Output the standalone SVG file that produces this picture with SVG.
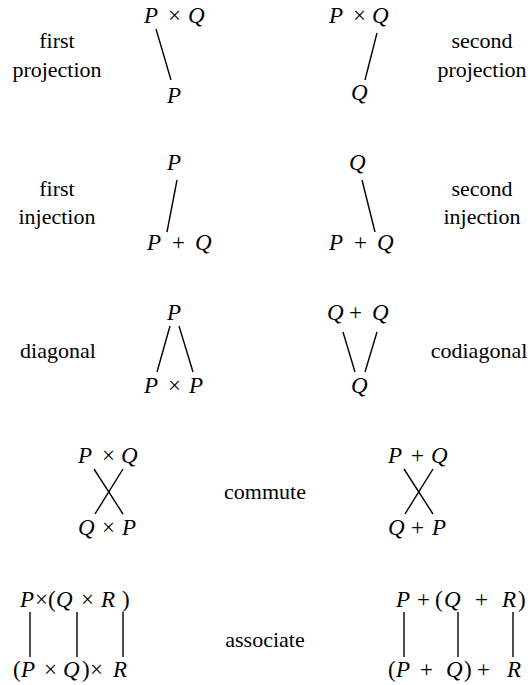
<svg xmlns="http://www.w3.org/2000/svg" width="531" height="685" viewBox="0 0 531 685">
<rect width="531" height="685" fill="#fff"/>
<g id="labels">
<text x="57" y="48" font-size="22" text-anchor="middle" font-family="Liberation Serif" style="font-family:'Liberation Serif',serif">first</text>
<text x="57" y="77" font-size="22" text-anchor="middle" font-family="Liberation Serif" style="font-family:'Liberation Serif',serif">projection</text>
<text x="482" y="48" font-size="22" text-anchor="middle" font-family="Liberation Serif" style="font-family:'Liberation Serif',serif">second</text>
<text x="482" y="77" font-size="22" text-anchor="middle" font-family="Liberation Serif" style="font-family:'Liberation Serif',serif">projection</text>
<text x="57" y="196" font-size="22" text-anchor="middle" font-family="Liberation Serif" style="font-family:'Liberation Serif',serif">first</text>
<text x="57" y="224" font-size="22" text-anchor="middle" font-family="Liberation Serif" style="font-family:'Liberation Serif',serif">injection</text>
<text x="482" y="196" font-size="22" text-anchor="middle" font-family="Liberation Serif" style="font-family:'Liberation Serif',serif">second</text>
<text x="482" y="224" font-size="22" text-anchor="middle" font-family="Liberation Serif" style="font-family:'Liberation Serif',serif">injection</text>
<text x="58" y="358" font-size="22" text-anchor="middle" font-family="Liberation Serif" style="font-family:'Liberation Serif',serif">diagonal</text>
<text x="479" y="358" font-size="22" text-anchor="middle" font-family="Liberation Serif" style="font-family:'Liberation Serif',serif">codiagonal</text>
<text x="265" y="499" font-size="22" text-anchor="middle" font-family="Liberation Serif" style="font-family:'Liberation Serif',serif">commute</text>
<text x="265" y="647" font-size="22" text-anchor="middle" font-family="Liberation Serif" style="font-family:'Liberation Serif',serif">associate</text>
</g>
<g id="nodes">
<g id="n-first-proj-top"><text y="23" font-size="23" font-family="Liberation Serif" style="font-family:'Liberation Serif',serif"><tspan font-style="italic" x="144">P</tspan><tspan x="168">×</tspan><tspan font-style="italic" x="188">Q</tspan></text></g>
<g id="n-first-proj-bot"><text x="167" y="103" font-size="23" font-style="italic" font-family="Liberation Serif" style="font-family:'Liberation Serif',serif">P</text></g>
<g id="n-second-proj-top"><text y="23" font-size="23" font-family="Liberation Serif" style="font-family:'Liberation Serif',serif"><tspan font-style="italic" x="329">P</tspan><tspan x="353">×</tspan><tspan font-style="italic" x="372">Q</tspan></text></g>
<g id="n-second-proj-bot"><text x="351" y="100" font-size="23" font-style="italic" font-family="Liberation Serif" style="font-family:'Liberation Serif',serif">Q</text></g>
<g id="n-first-inj-top"><text x="167" y="170" font-size="23" font-style="italic" font-family="Liberation Serif" style="font-family:'Liberation Serif',serif">P</text></g>
<g id="n-first-inj-bot"><text y="250" font-size="23" font-family="Liberation Serif" style="font-family:'Liberation Serif',serif"><tspan font-style="italic" x="147">P</tspan><tspan x="172">+</tspan><tspan font-style="italic" x="195">Q</tspan></text></g>
<g id="n-second-inj-top"><text x="349" y="170" font-size="23" font-style="italic" font-family="Liberation Serif" style="font-family:'Liberation Serif',serif">Q</text></g>
<g id="n-second-inj-bot"><text y="250" font-size="23" font-family="Liberation Serif" style="font-family:'Liberation Serif',serif"><tspan font-style="italic" x="329">P</tspan><tspan x="354">+</tspan><tspan font-style="italic" x="377">Q</tspan></text></g>
<g id="n-diag-top"><text x="167" y="320" font-size="23" font-style="italic" font-family="Liberation Serif" style="font-family:'Liberation Serif',serif">P</text></g>
<g id="n-diag-bot"><text y="393" font-size="23" font-family="Liberation Serif" style="font-family:'Liberation Serif',serif"><tspan font-style="italic" x="144">P</tspan><tspan x="168">×</tspan><tspan font-style="italic" x="189">P</tspan></text></g>
<g id="n-codiag-top"><text y="320" font-size="23" font-family="Liberation Serif" style="font-family:'Liberation Serif',serif"><tspan font-style="italic" x="327">Q</tspan><tspan x="349">+</tspan><tspan font-style="italic" x="372">Q</tspan></text></g>
<g id="n-codiag-bot"><text x="351" y="393" font-size="23" font-style="italic" font-family="Liberation Serif" style="font-family:'Liberation Serif',serif">Q</text></g>
<g id="n-comm1-top"><text y="463" font-size="23" font-family="Liberation Serif" style="font-family:'Liberation Serif',serif"><tspan font-style="italic" x="78">P</tspan><tspan x="102">×</tspan><tspan font-style="italic" x="121">Q</tspan></text></g>
<g id="n-comm1-bot"><text y="535" font-size="23" font-family="Liberation Serif" style="font-family:'Liberation Serif',serif"><tspan font-style="italic" x="78">Q</tspan><tspan x="102">×</tspan><tspan font-style="italic" x="122">P</tspan></text></g>
<g id="n-comm2-top"><text y="463" font-size="23" font-family="Liberation Serif" style="font-family:'Liberation Serif',serif"><tspan font-style="italic" x="388">P</tspan><tspan x="411">+</tspan><tspan font-style="italic" x="431">Q</tspan></text></g>
<g id="n-comm2-bot"><text y="535" font-size="23" font-family="Liberation Serif" style="font-family:'Liberation Serif',serif"><tspan font-style="italic" x="388">Q</tspan><tspan x="411">+</tspan><tspan font-style="italic" x="432">P</tspan></text></g>
<g id="n-assoc1-top"><text y="607" font-size="23" font-family="Liberation Serif" style="font-family:'Liberation Serif',serif"><tspan font-style="italic" x="20">P</tspan><tspan x="35">×</tspan><tspan x="48">(</tspan><tspan font-style="italic" x="56">Q</tspan><tspan x="81">×</tspan><tspan font-style="italic" x="101">R</tspan><tspan x="122">)</tspan></text></g>
<g id="n-assoc1-bot"><text y="677" font-size="23" font-family="Liberation Serif" style="font-family:'Liberation Serif',serif"><tspan x="13">(</tspan><tspan font-style="italic" x="21">P</tspan><tspan x="44">×</tspan><tspan font-style="italic" x="63">Q</tspan><tspan x="82">)</tspan><tspan x="90">×</tspan><tspan font-style="italic" x="113">R</tspan></text></g>
<g id="n-assoc2-top"><text y="607" font-size="23" font-family="Liberation Serif" style="font-family:'Liberation Serif',serif"><tspan font-style="italic" x="396">P</tspan><tspan x="417">+</tspan><tspan x="435">(</tspan><tspan font-style="italic" x="444">Q</tspan><tspan x="475">+</tspan><tspan font-style="italic" x="502">R</tspan><tspan x="518">)</tspan></text></g>
<g id="n-assoc2-bot"><text y="677" font-size="23" font-family="Liberation Serif" style="font-family:'Liberation Serif',serif"><tspan x="388">(</tspan><tspan font-style="italic" x="396">P</tspan><tspan x="420">+</tspan><tspan font-style="italic" x="446">Q</tspan><tspan x="464">)</tspan><tspan x="477">+</tspan><tspan font-style="italic" x="507">R</tspan></text></g>
</g>
<g id="connectors" stroke="#000" stroke-width="1.4">
<line x1="156" y1="29" x2="171" y2="80"/>
<line x1="377" y1="33" x2="365" y2="80"/>
<line x1="177" y1="180" x2="167" y2="232"/>
<line x1="362" y1="180" x2="375" y2="232"/>
<line x1="170" y1="326" x2="157" y2="372"/>
<line x1="179" y1="326" x2="193" y2="372"/>
<line x1="343" y1="332" x2="355" y2="372"/>
<line x1="377" y1="332" x2="365" y2="372"/>
<line x1="94" y1="469" x2="123" y2="514"/>
<line x1="123" y1="469" x2="95" y2="514"/>
<line x1="404" y1="469" x2="433" y2="514"/>
<line x1="433" y1="469" x2="405" y2="514"/>
<line x1="30" y1="612" x2="30" y2="657"/>
<line x1="77" y1="612" x2="77" y2="657"/>
<line x1="123" y1="612" x2="123" y2="657"/>
<line x1="404" y1="612" x2="404" y2="657"/>
<line x1="458" y1="612" x2="458" y2="657"/>
<line x1="513" y1="612" x2="513" y2="657"/>
</g>
</svg>
